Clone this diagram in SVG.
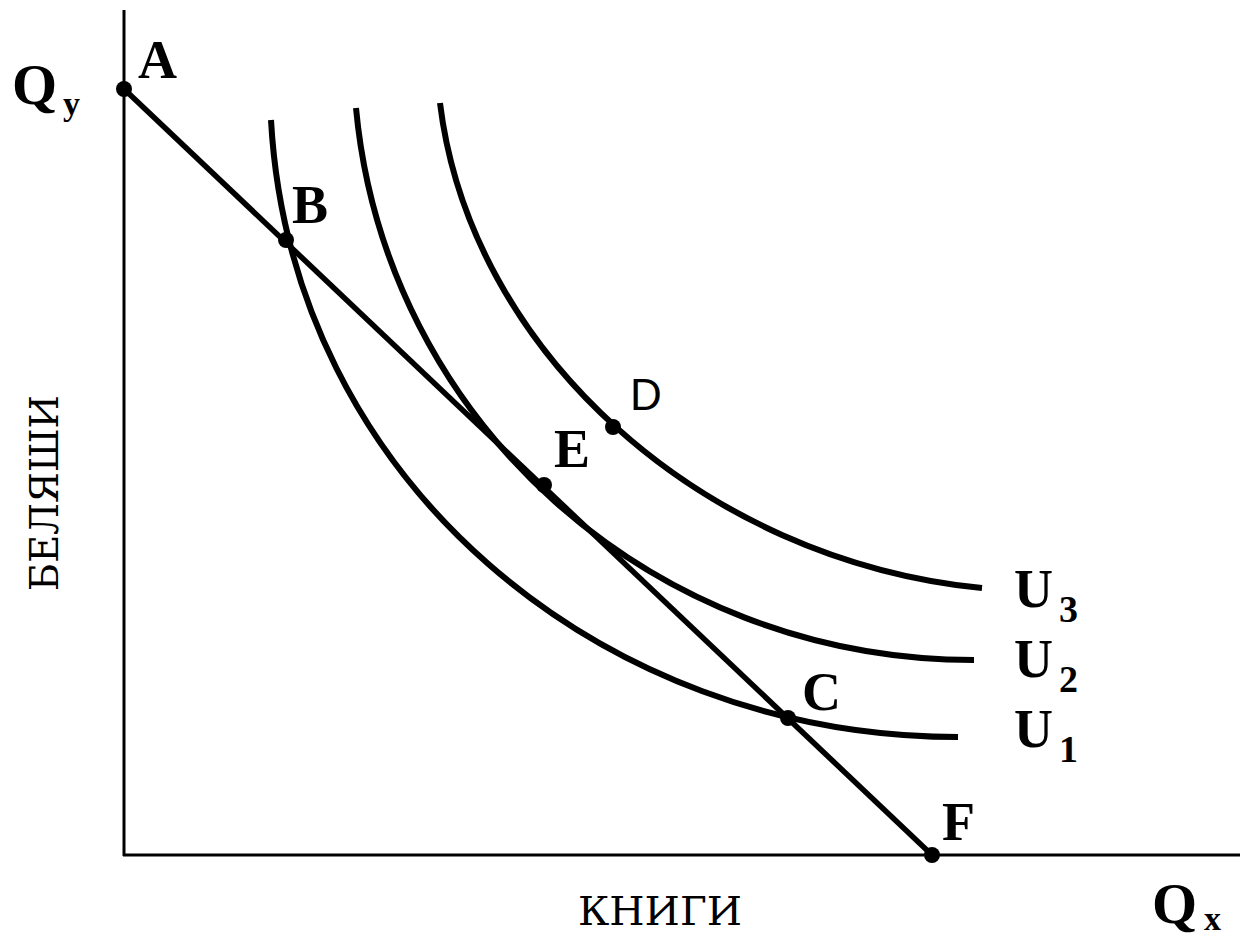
<svg xmlns="http://www.w3.org/2000/svg" width="1240" height="943" viewBox="0 0 1240 943">
<style>
.axis{stroke:#000;stroke-width:3;fill:none}
.budget{stroke:#000;stroke-width:5.5;fill:none}
.curve{stroke:#000;stroke-width:6;fill:none;stroke-linecap:butt}
.dot{fill:#000}
.lbl{font-family:"Liberation Serif","Times New Roman",serif;font-weight:bold;fill:#000}
.word{font-family:"DejaVu Serif","Liberation Serif",serif;fill:#000;font-size:40px}
.sans{font-family:"Liberation Sans",Arial,sans-serif;fill:#000}
</style>
<rect width="1240" height="943" fill="#fff"/>
<g id="connectors">
  <line id="y-axis" class="axis" x1="124" y1="10" x2="124" y2="856"/>
  <line id="x-axis" class="axis" x1="123" y1="855" x2="1240" y2="855"/>
  <line id="budget-line" class="budget" x1="124" y1="89" x2="932" y2="855"/>
  <path id="U1-curve" class="curve" d="M271,120 C291,480 600,737 958,737"/>
  <path id="U2-curve" class="curve" d="M356,108 C385,420 650,660 974,660"/>
  <path id="U3-curve" class="curve" d="M440,103 C470,350 700,560 982,588"/>
</g>
<g id="point-A"><circle class="dot" cx="124" cy="89" r="8"/><text class="lbl" x="138" y="78" font-size="54">A</text></g>
<g id="point-B"><circle class="dot" cx="286" cy="240" r="8"/><text class="lbl" x="292" y="223" font-size="54">B</text></g>
<g id="point-E"><circle class="dot" cx="544" cy="485" r="8"/><text class="lbl" x="554" y="467" font-size="54">E</text></g>
<g id="point-D"><circle class="dot" cx="613" cy="427" r="8"/><text class="sans" x="630" y="410" font-size="44">D</text></g>
<g id="point-C"><circle class="dot" cx="788" cy="718" r="8"/><text class="lbl" x="802" y="710" font-size="54">C</text></g>
<g id="point-F"><circle class="dot" cx="932" cy="855" r="8"/><text class="lbl" x="942" y="840" font-size="54">F</text></g>
<g id="label-U3"><text class="lbl" x="1014" y="607" font-size="54">U</text><text class="lbl" x="1059" y="622" font-size="38">3</text></g>
<g id="label-U2"><text class="lbl" x="1014" y="677" font-size="54">U</text><text class="lbl" x="1059" y="692" font-size="38">2</text></g>
<g id="label-U1"><text class="lbl" x="1014" y="747" font-size="54">U</text><text class="lbl" x="1059" y="762" font-size="38">1</text></g>
<g id="label-Qy"><text class="lbl" x="12" y="104" font-size="58">Q</text><text class="lbl" x="63" y="115" font-size="34">y</text></g>
<g id="label-Qx"><text class="lbl" x="1152" y="923" font-size="58">Q</text><text class="lbl" x="1204" y="930" font-size="34">x</text></g>
<g id="label-books"><text class="word" x="578" y="925" textLength="164" lengthAdjust="spacingAndGlyphs">КНИГИ</text></g>
<g id="label-belyashi"><text class="word" transform="translate(58,591) rotate(-90)" x="0" y="0" textLength="196" lengthAdjust="spacingAndGlyphs">БЕЛЯШИ</text></g>
</svg>
